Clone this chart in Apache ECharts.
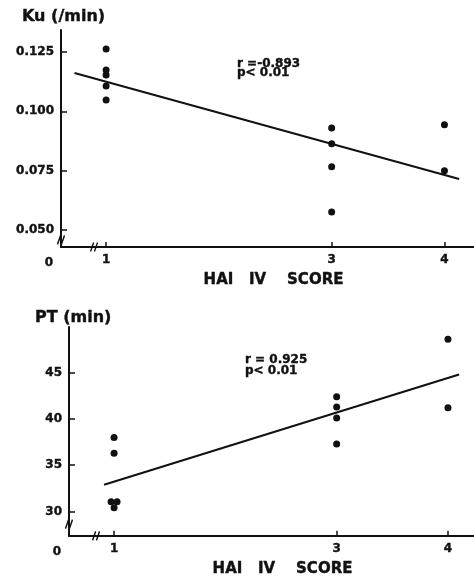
<!DOCTYPE html>
<html>
<head>
<meta charset="utf-8">
<script src="https://cdn.jsdelivr.net/npm/echarts@6/dist/echarts.min.js"></script>
<style>
html,body{margin:0;padding:0;background:#fff;}
#c{width:474px;height:578px;}
</style>
</head>
<body>
<div id="c"></div>
<script>
// ---- data ----
const xTickValues = [1, 3, 4];
const kuTickValues = [0.050, 0.075, 0.100, 0.125];
const ptTickValues = [30, 35, 40, 45];

const kuScore1 = [0.1263, 0.1174, 0.1153, 0.1107, 0.1048];
const kuScore3 = [0.0930, 0.0863, 0.0766, 0.0576];
const kuScore4 = [0.0943, 0.0749];
const kuFitX = [0.72, 4.13];
const kuFitY = [0.1162, 0.0715];
const kuStats = ['r =-0.893', 'p< 0.01'];

const ptScore1X = [1, 1, 0.973, 1.027, 1];
const ptScore1 = [38.0, 36.3, 31.05, 31.05, 30.4];
const ptScore3 = [42.4, 41.3, 40.1, 37.3];
const ptScore4 = [48.6, 41.2];
const ptFitX = [0.91, 4.10];
const ptFitY = [32.9, 44.8];
const ptStats = ['r = 0.925', 'p< 0.01'];

const kuBreaks = [[0.893, 0.0428], [0.6, 0.0458]];
const ptBreaks = [[0.838, 27.38], [0.595, 28.64]];

// ---- build ----
const FONT = 'DejaVu Sans';
const INK = '#111';
const BOLD = {fontFamily: FONT, fontWeight: 'bold', color: INK, textBorderColor: INK, textBorderWidth: 0.4};
function pts(x, ys) { return ys.map(v => [x, v]); }
function ptsXY(xs, ys) { return ys.map((v, i) => [xs[i], v]); }

const scatterData1 = pts(1, kuScore1).concat(pts(3, kuScore3), pts(4, kuScore4));
const scatterData2 = ptsXY(ptScore1X, ptScore1).concat(pts(3, ptScore3), pts(4, ptScore4));

function xAxisCfg(gi, min, max, namePad) {
  return {
    type: 'value', gridIndex: gi, min: min, max: max,
    name: 'HAI   IV    SCORE', nameLocation: 'middle', nameGap: 26,
    nameTextStyle: Object.assign({fontSize: 15, padding: [0, 0, 0, namePad]}, BOLD),
    splitLine: {show: false},
    axisLine: {lineStyle: {color: INK, width: 2}},
    axisTick: {customValues: xTickValues, inside: true, length: 5, lineStyle: {color: INK, width: 1.5}},
    axisLabel: Object.assign({
      customValues: [min].concat(xTickValues), margin: 7, fontSize: 12,
      formatter: v => (Math.abs(v - min) < 1e-6 ? '{z|0}' : String(Math.round(v))),
      rich: {z: Object.assign({fontSize: 12, padding: [3, 24, 0, 0]}, BOLD)}
    }, BOLD)
  };
}
function yAxisCfg(gi, min, max, ticks, dec) {
  return {
    type: 'value', gridIndex: gi, min: min, max: max,
    splitLine: {show: false},
    axisLine: {lineStyle: {color: INK, width: 2}},
    axisTick: {customValues: ticks, inside: true, length: 6, lineStyle: {color: INK, width: 1.5}},
    axisLabel: Object.assign({
      customValues: ticks, margin: 7, verticalAlign: 'middle', padding: [0, 0, 5, 0], fontSize: 12,
      formatter: v => v.toFixed(dec)
    }, BOLD)
  };
}
const breakSymbol = 'path://M0,10 L4,0 M5,10 L9,0';
function breakSeries(xi, data) {
  return {
    type: 'scatter', xAxisIndex: xi, yAxisIndex: xi, silent: true, z: 5,
    symbol: breakSymbol, symbolSize: [7, 9],
    itemStyle: {color: 'rgba(0,0,0,0)', borderColor: INK, borderWidth: 1.6, opacity: 1},
    data: data
  };
}

const chart = echarts.init(document.getElementById('c'), null, {renderer: 'canvas'});
chart.setOption({
  animation: false,
  backgroundColor: '#fff',
  title: [
    {text: 'Ku (/min)', left: 17, top: 4, textStyle: Object.assign({fontSize: 16}, BOLD)},
    {text: 'PT (min)', left: 30, top: 305, textStyle: Object.assign({fontSize: 16}, BOLD)},
    {text: kuStats.join('\n'), left: 232, top: 54, textStyle: Object.assign({fontSize: 12, lineHeight: 9.5}, BOLD)},
    {text: ptStats.join('\n'), left: 240, top: 349, textStyle: Object.assign({fontSize: 12, lineHeight: 11}, BOLD)}
  ],
  grid: [
    {left: 61, right: 0, top: 30, height: 217},
    {left: 69, right: 0, top: 327, height: 215}
  ],
  xAxis: [xAxisCfg(0, 0.6, 4.262, 12), xAxisCfg(1, 0.595, 4.234, 22)],
  yAxis: [yAxisCfg(0, 0.0428, 0.1343, kuTickValues, 3), yAxisCfg(1, 27.38, 49.93, ptTickValues, 0)],
  series: [
    {type: 'scatter', xAxisIndex: 0, yAxisIndex: 0, symbolSize: 7, itemStyle: {color: INK, opacity: 1}, data: scatterData1},
    {type: 'line', xAxisIndex: 0, yAxisIndex: 0, symbol: 'none', lineStyle: {color: INK, width: 2}, data: ptsXY(kuFitX, kuFitY)},
    {type: 'scatter', xAxisIndex: 1, yAxisIndex: 1, symbolSize: 7, itemStyle: {color: INK, opacity: 1}, data: scatterData2},
    {type: 'line', xAxisIndex: 1, yAxisIndex: 1, symbol: 'none', lineStyle: {color: INK, width: 2}, data: ptsXY(ptFitX, ptFitY)},
    breakSeries(0, kuBreaks),
    breakSeries(1, ptBreaks)
  ]
});
</script>
</body>
</html>
